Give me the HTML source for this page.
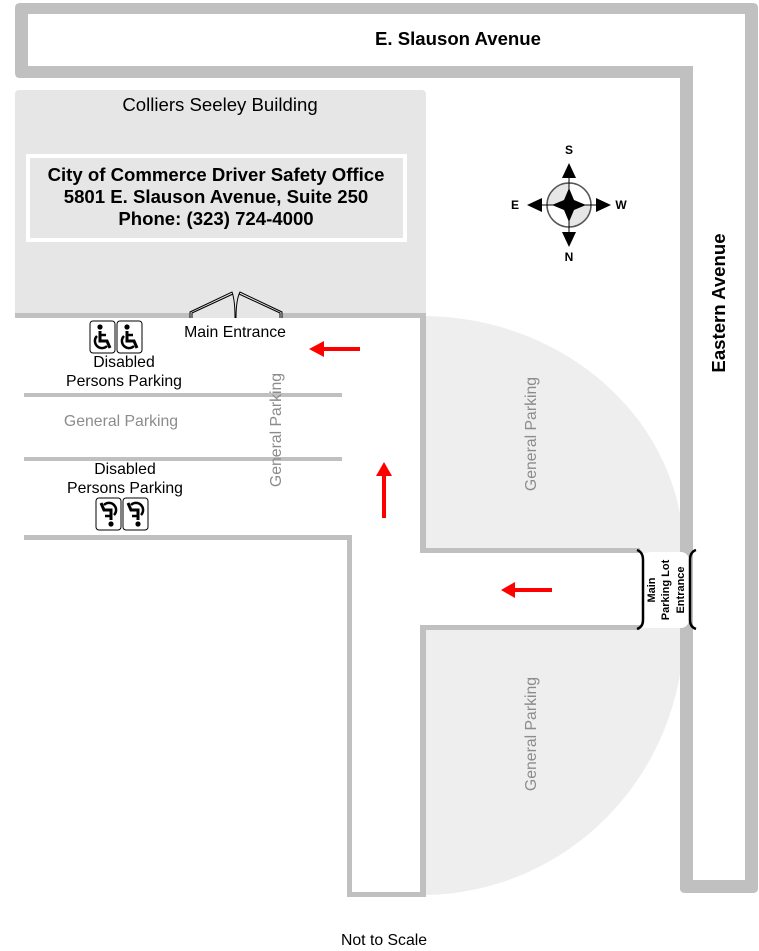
<!DOCTYPE html>
<html><head><meta charset="utf-8"><style>
html,body{margin:0;padding:0;background:#fff;}
svg{display:block;font-family:"Liberation Sans",Arial,sans-serif;}
</style></head><body>
<svg width="759" height="951" viewBox="0 0 759 951" xmlns="http://www.w3.org/2000/svg">
<defs>
<g id="wc">
<rect x="0" y="0" width="25" height="32" rx="3" fill="#fff" stroke="#000"/>
<circle cx="10" cy="6" r="2.6" fill="#000"/>
<path d="M10,10 V20 H17 L20,27" fill="none" stroke="#000" stroke-width="3"/>
<path d="M10,14 H16" stroke="#000" stroke-width="2.5"/>
<path d="M7,15 A7,7 0 1 0 17,25" fill="none" stroke="#000" stroke-width="2.5"/>
</g>
</defs>
<!-- roads -->
<path d="M20,3 H753 Q758,3 758,8 V888 Q758,893 753,893 H685 Q680,893 680,888 V78 H20 Q15,78 15,73 V8 Q15,3 20,3 Z" fill="#c0c0c0"/>
<path d="M28,14 H745 V880 H693 V66 H28 Z" fill="#fff"/>
<text x="458" y="45" font-size="18.6" font-weight="bold" text-anchor="middle">E. Slauson Avenue</text>
<text transform="translate(725,303) rotate(-90)" font-size="18.6" font-weight="bold" text-anchor="middle">Eastern Avenue</text>
<!-- building -->
<rect x="15" y="90" width="411" height="228" rx="4" fill="#e6e6e6"/>
<text x="220" y="111" font-size="18.6" text-anchor="middle">Colliers Seeley Building</text>
<rect x="28" y="156" width="377" height="84" fill="#e6e6e6" stroke="#fff" stroke-width="4"/>
<text x="216" y="181" font-size="18.6" font-weight="bold" text-anchor="middle">City of Commerce Driver Safety Office</text>
<text x="216" y="203" font-size="18.6" font-weight="bold" text-anchor="middle">5801 E. Slauson Avenue, Suite 250</text>
<text x="216" y="225" font-size="18.6" font-weight="bold" text-anchor="middle">Phone: (323) 724-4000</text>
<!-- lots fill -->
<path d="M426,316 A262,239 0 0 1 684,553 H426 Z" fill="#eeeeee"/>
<path d="M426,628 H684 A262,267 0 0 1 426,895 Z" fill="#eeeeee"/>
<rect x="680" y="300" width="13" height="590" fill="#c0c0c0"/>
<!-- lot white area -->
<rect x="24" y="318" width="396" height="217" fill="#fff"/>
<rect x="352" y="318" width="68" height="574" fill="#fff"/>
<!-- lot outlines -->
<g fill="#c0c0c0">
<rect x="15" y="313" width="175" height="5"/>
<rect x="282" y="313" width="144" height="5"/>
<rect x="420" y="313" width="6" height="240"/>
<rect x="420" y="548" width="220" height="5"/>
<rect x="420" y="625" width="220" height="5"/>
<rect x="420" y="625" width="6" height="272"/>
<rect x="347" y="892" width="79" height="5"/>
<rect x="347" y="535" width="5" height="362"/>
<rect x="24" y="535" width="328" height="5"/>
<rect x="24" y="393" width="318" height="4"/>
<rect x="24" y="457" width="318" height="4"/>
</g>
<!-- main entrance doors -->
<g fill="none" stroke="#000" stroke-width="1">
<path d="M190,318 V312 L232,292 Q235,300 235,318"/>
<path d="M192,318 V313 L233,294"/>
<path d="M282,318 V312 L240,292 Q236,300 236,318"/>
<path d="M280,318 V313 L239,294"/>
</g>
<text x="235" y="337" font-size="15.8" text-anchor="middle">Main Entrance</text>
<!-- disabled signs -->
<use href="#wc" transform="translate(90,321)"/>
<use href="#wc" transform="translate(117,321)"/>
<use href="#wc" transform="translate(121,530) rotate(180)"/>
<use href="#wc" transform="translate(148,530) rotate(180)"/>
<g font-size="15.8" text-anchor="middle">
<text x="124" y="367">Disabled</text>
<text x="124" y="386">Persons Parking</text>
<text x="125" y="474">Disabled</text>
<text x="125" y="493">Persons Parking</text>
</g>
<g font-size="15.8" fill="#8c8c8c" text-anchor="middle">
<text x="121" y="426">General Parking</text>
<text transform="translate(281,430) rotate(-90)">General Parking</text>
<text transform="translate(536,434) rotate(-90)">General Parking</text>
<text transform="translate(536,734) rotate(-90)">General Parking</text>
</g>
<!-- red arrows -->
<g fill="#ff0000">
<rect x="322" y="347" width="38" height="4"/><polygon points="309,349 324,341 324,357"/>
<rect x="382" y="475" width="4" height="43"/><polygon points="384,462 376,476 392,476"/>
<rect x="513" y="588" width="39" height="4"/><polygon points="501,590 515,582 515,598"/>
</g>
<!-- parking lot entrance -->
<rect x="643" y="552" width="46" height="76" rx="8" fill="#fff"/>
<g fill="none" stroke="#000" stroke-width="2.5">
<path d="M637,550 Q643,552 643,560 V620 Q643,627 637,629"/>
<path d="M696,550 Q690,552 690,560 V620 Q690,627 696,629"/>
</g>
<g font-size="11" font-weight="bold" text-anchor="middle">
<text transform="translate(655,590) rotate(-90)">Main</text>
<text transform="translate(669,590) rotate(-90)">Parking Lot</text>
<text transform="translate(684,590) rotate(-90)">Entrance</text>
</g>
<!-- compass -->
<g>
<circle cx="569" cy="205" r="22" fill="#fff"/>
<path d="M547,205 A22,22 0 0 1 569,183 V205 Z" fill="#e6e6e6"/>
<path d="M591,205 A22,22 0 0 1 569,227 V205 Z" fill="#e6e6e6"/>
<circle cx="569" cy="205" r="22" fill="none" stroke="#555" stroke-width="1.5"/>
<line x1="540" y1="205" x2="598" y2="205" stroke="#000"/>
<line x1="569" y1="176" x2="569" y2="234" stroke="#000"/>
<polygon points="569,188 574,200 586,205 574,210 569,222 564,210 552,205 564,200" fill="#000"/>
<polygon points="569,163 562,178 576,178" fill="#000"/>
<polygon points="569,247 562,232 576,232" fill="#000"/>
<polygon points="527,205 542,198 542,212" fill="#000"/>
<polygon points="611,205 596,198 596,212" fill="#000"/>
<g font-size="12" font-weight="bold" text-anchor="middle">
<text x="569" y="154">S</text><text x="569" y="261">N</text>
<text x="515" y="209">E</text><text x="621" y="209">W</text>
</g>
</g>
<text x="384" y="945" font-size="15.8" text-anchor="middle">Not to Scale</text>
</svg>
</body></html>
